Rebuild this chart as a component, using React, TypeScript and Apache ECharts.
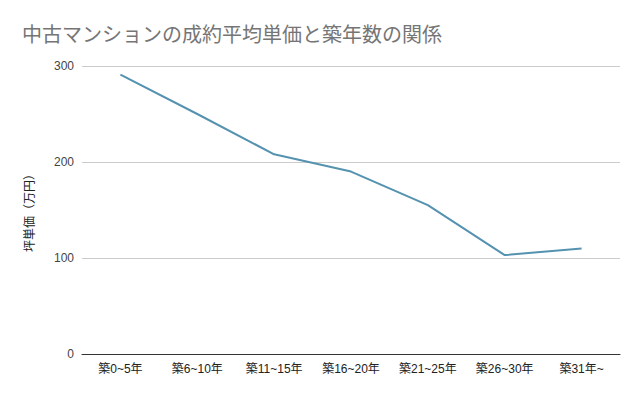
import React, { useEffect, useRef } from "react";
import * as echarts from "echarts";

const title = "中古マンションの成約平均単価と築年数の関係";
const yAxisName = "坪単価（万円）";
const categories = ["築0~5年", "築6~10年", "築11~15年", "築16~20年", "築21~25年", "築26~30年", "築31年~"];
const values = [291, 250, 208, 190, 155, 103, 110];

export default function App() {
  const ref = useRef<HTMLDivElement>(null);
  useEffect(() => {
    const chart = echarts.init(ref.current!, null, { renderer: "svg" });
    chart.setOption({
      animation: false,
      backgroundColor: "#ffffff",
      title: {
        text: title,
        left: 17,
        top: 18,
        textStyle: { color: "#757575", fontSize: 20, fontWeight: "normal", fontFamily: "Noto Sans CJK JP" },
      },
      grid: { left: 82, right: 20, top: 66, bottom: 42 },
      xAxis: {
        type: "category",
        data: categories,
        boundaryGap: true,
        axisTick: { show: false },
        axisLine: { lineStyle: { color: "#333333", width: 1 } },
        axisLabel: { color: "#222222", fontSize: 12, margin: 9, fontFamily: "Liberation Sans, Noto Sans CJK JP" },
      },
      yAxis: {
        type: "value",
        min: 0,
        max: 300,
        interval: 100,
        name: yAxisName,
        nameLocation: "middle",
        nameGap: 48,
        nameTextStyle: { color: "#222222", fontSize: 12, fontFamily: "Noto Sans CJK JP" },
        axisLine: { show: false },
        axisTick: { show: false },
        axisLabel: { color: "#444444", fontSize: 12, margin: 8, fontFamily: "Liberation Sans" },
        splitLine: { lineStyle: { color: "#cccccc", width: 1 } },
      },
      series: [
        {
          type: "line",
          data: values,
          showSymbol: false,
          symbol: "none",
          lineStyle: { color: "#5592b0", width: 2 },
        },
      ],
    });
    return () => chart.dispose();
  }, []);
  return <div ref={ref} style={{ width: 640, height: 396, position: "absolute", left: 0, top: 0 }} />;
}
